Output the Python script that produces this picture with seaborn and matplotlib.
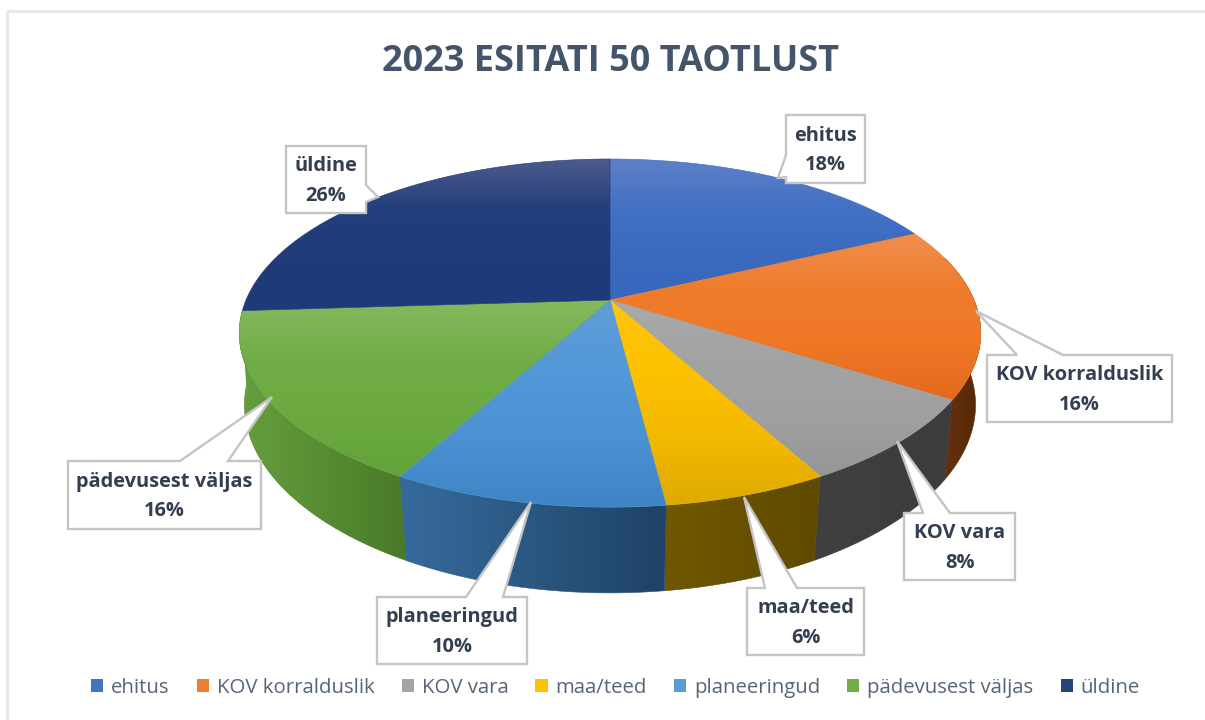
import numpy as np
import matplotlib
matplotlib.use('Agg')
import matplotlib.pyplot as plt
from matplotlib.patches import Polygon, Rectangle
import seaborn as sns

categories = ['ehitus', 'KOV korralduslik', 'KOV vara', 'maa/teed', 'planeeringud', 'pädevusest väljas', 'üldine']
percent = [18, 16, 8, 6, 10, 16, 26]
title = '2023 ESITATI 50 TAOTLUST'

legend_colors = ['#4472C4', '#ED7D31', '#A5A5A5', '#FFC000', '#5B9BD5', '#70AD47', '#264478']
top_shades = [['#5F80C8', '#4472C4', '#3B6ABF', '#3767BE'],
              ['#EF8E50', '#F07C2C', '#EE7826', '#E4691E'],
              ['#AAAAAA', '#A3A3A3', '#A0A0A0', '#969696'],
              ['#FFC60F', '#FCC100', '#F4BA00', '#DDAA00'],
              ['#609DD7', '#5398D8', '#4C92D2', '#3F85C6'],
              ['#87B95F', '#70AD47', '#6CAA40', '#62A238'],
              ['#4C5B8C', '#223E7C', '#1F3C79', '#1D3B78']]
side_shades = [['#2A4A8A', '#223B70'],
               ['#66320E', '#562807'],
               ['#404040', '#3C3C3C'],
               ['#705800', '#5E4A00'],
               ['#366A9E', '#2A5780', '#1F4266'],
               ['#659F3E', '#4A7A28'],
               ['#1C2F58', '#16264A']]

# label box (left, top, right, bottom) and tail outline
callouts = [
    ((786, 115, 865, 183), [(786, 177), (778, 178), (786, 155)]),
    ((987, 355, 1172, 422), [(1017, 355), (976, 311), (1063, 355)]),
    ((904, 513, 1015, 580), [(923, 513), (897, 441), (950, 513)]),
    ((747, 588, 864, 655), [(765, 588), (744, 497), (797, 588)]),
    ((377, 597, 527, 664), [(466, 597), (531, 502), (503, 597)]),
    ((68, 461, 261, 529), [(180, 461), (272, 397), (228, 461)]),
    ((286, 146, 366, 213), [(366, 185), (378, 197), (366, 202)]),
]

sns.set_theme(style='white')
plt.rcParams['font.family'] = ['Open Sans', 'DejaVu Sans']

CX = 610
K = 0.19       # perspective of the disc
R = 364


def top_xy(theta):
    u, v = np.sin(theta), -np.cos(theta)
    d = 1 - K * v
    return CX + R * u / d, 300 + 167.8 * v / d


def bottom_xy(theta):
    u, v = np.sin(theta), -np.cos(theta)
    d = 1 - K * v
    return CX + (0.99 - 0.023 * np.clip(v, 0, 1)) * R * u / d, 374 + 177.3 * v / d


def fill_gradient(ax, pts, colors, horizontal=False):
    pts = np.asarray(pts)
    grad = np.array(sns.blend_palette(colors, n_colors=128))
    img = grad[None, :, :] if horizontal else grad[:, None, :]
    x0, x1 = pts[:, 0].min(), pts[:, 0].max()
    y0, y1 = pts[:, 1].min(), pts[:, 1].max()
    im = ax.imshow(img, extent=(x0, x1, y1, y0), aspect='auto', zorder=ax.zorder_now,
                   interpolation='bilinear')
    clip = Polygon(pts, closed=True, transform=ax.transData)
    im.set_clip_path(clip)
    # thin edge hides the jagged clip border
    ax.add_patch(Polygon(pts, closed=True, fill=False, ec=colors[len(colors) // 2], lw=0.4,
                         zorder=ax.zorder_now))
    ax.zorder_now += 0.01


fig = plt.figure(figsize=(12.05, 7.2), dpi=100)
ax = fig.add_axes([0, 0, 1, 1])
ax.zorder_now = 2
ax.set_xlim(0, 1205)
ax.set_ylim(720, 0)
ax.axis('off')

# frame of the chart area
ax.add_patch(Rectangle((7, 11), 1300, 800, fill=False, ec='#E3E8EE', lw=2, zorder=1))

edges = np.deg2rad(np.cumsum([0] + percent) * 3.6)

# outer wall first, the top covers what is hidden
for i in range(len(percent) - 1):
    a0 = max(edges[i], np.deg2rad(75))
    a1 = edges[i + 1]
    if a1 <= a0:
        continue
    t = np.linspace(a0, a1, 80)
    tx, ty = top_xy(t)
    bx, by = bottom_xy(t)
    pts = np.column_stack([np.r_[tx, bx[::-1]], np.r_[ty, by[::-1]]])
    fill_gradient(ax, pts, side_shades[i], horizontal=True)

for i in range(len(percent)):
    t = np.linspace(edges[i], edges[i + 1], 120)
    tx, ty = top_xy(t)
    pts = np.column_stack([np.r_[CX, tx], np.r_[300, ty]])
    fill_gradient(ax, pts, top_shades[i])

for i, (box, tail) in enumerate(callouts):
    l, t, r, b = box
    # outline walks clockwise from top left and takes the tail in on its side
    if tail[0][1] == t:
        pts = [(l, t)] + tail + [(r, t), (r, b), (l, b)]
    elif tail[0][0] == r:
        pts = [(l, t), (r, t)] + tail + [(r, b), (l, b)]
    else:
        pts = [(l, t), (r, t), (r, b), (l, b)] + tail
    ax.add_patch(Polygon(pts, closed=True, fc='white', ec='#C4C4C4', lw=1.7, joinstyle='miter', zorder=5))
    ax.text((l + r) / 2, (t + b) / 2 + 1.5, f'{categories[i]}\n{percent[i]}%', ha='center', va='center',
            fontsize=14.4, fontweight='bold', color='#333F50', linespacing=1.65, zorder=6)

ax.set_title(title, x=610.5 / 1205, y=1 - 79 / 720, fontsize=26, fontweight='bold', color='#44546A')

handles = [Rectangle((0, 0), 1, 1, fc=c, ec='none') for c in legend_colors]
fig.legend(handles, categories, loc='center', bbox_to_anchor=(615.5 / 1205, 1 - 688 / 720), ncol=7,
           frameon=False, fontsize=14.7, labelcolor='#56657A', handlelength=0.59, handleheight=0.6,
           handletextpad=0.39, columnspacing=1.33, borderpad=0)

fig.savefig('out.png', dpi=100)
